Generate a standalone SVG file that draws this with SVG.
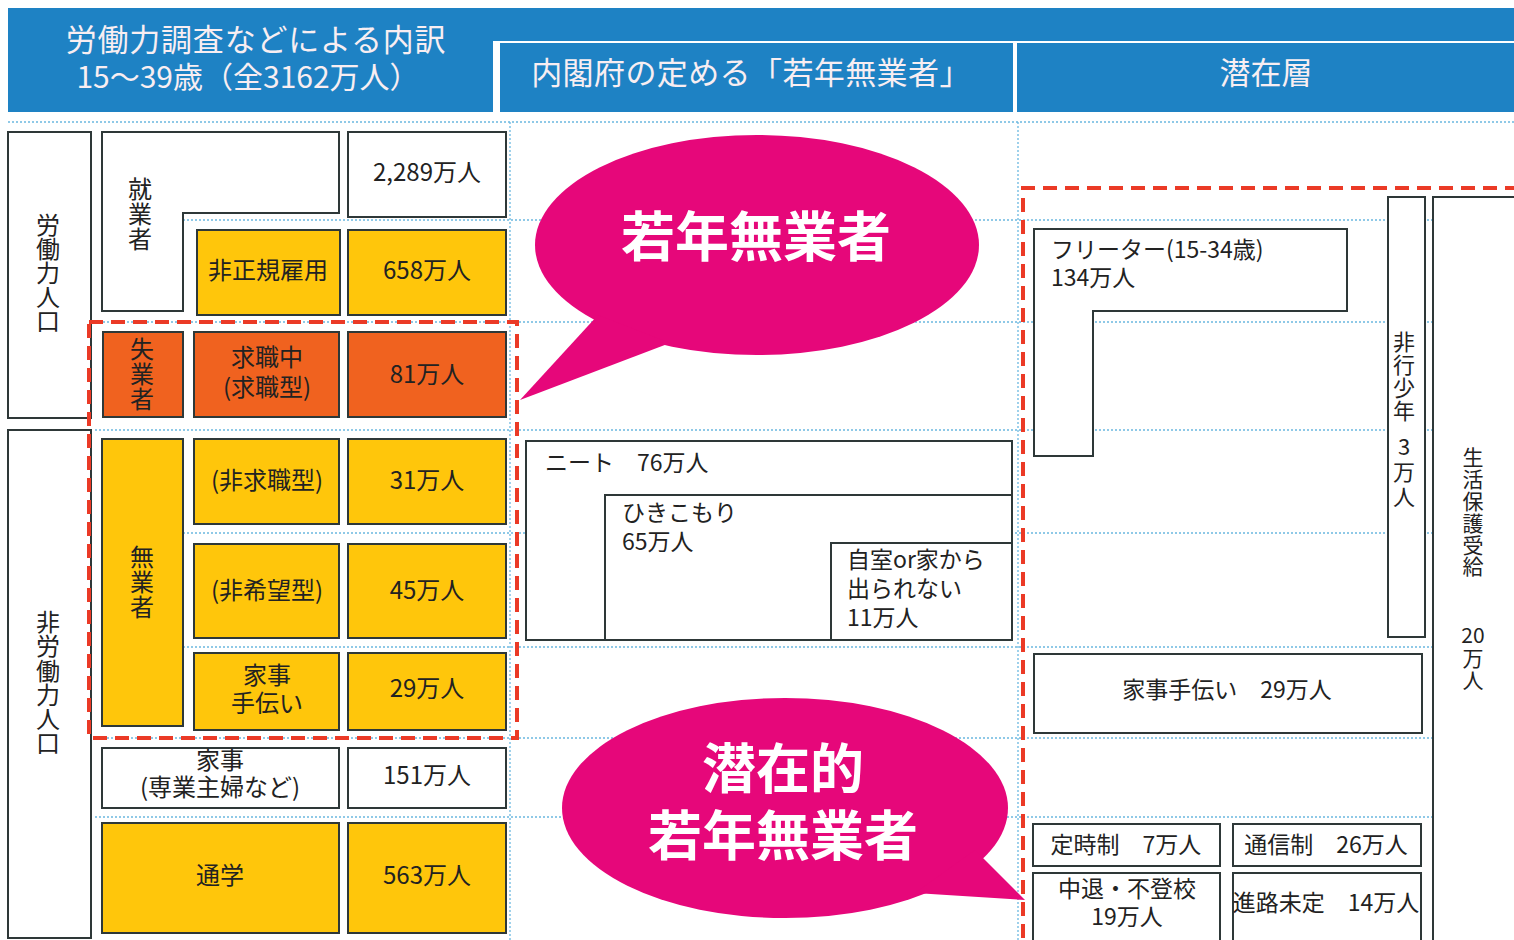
<svg xmlns="http://www.w3.org/2000/svg" width="1514" height="940" viewBox="0 0 1514 940">
<style>
.box{stroke:#2e3838;stroke-width:2}
.w{fill:#fff}.y{fill:#FFC60B}.o{fill:#F0621F}
.t{font-family:"Noto Sans CJK JP","Noto Sans CJK SC",sans-serif;font-size:24px;fill:#222}
.s23{font-size:23px}.s22{font-size:22px}.s21{font-size:21px}
.c{text-anchor:middle}
.v{writing-mode:vertical-rl;text-orientation:upright}
.hd{fill:#F8EEF2;font-size:30px}
.bub{fill:#E6077A}
.bt{fill:#fff;font-size:54px;font-weight:bold}
.dash{fill:none;stroke:#EB3A26;stroke-width:4;stroke-dasharray:14 8}
.dot{stroke:#6BB8E0;stroke-width:1.3;stroke-dasharray:2 2;fill:none}
.hb{fill:#1E82C4}
</style>
<rect width="1514" height="940" fill="#fff"/>
<g id="header">
<rect class="hb" x="8" y="8" width="1506" height="33"/>
<rect class="hb" x="8" y="8" width="485" height="104"/>
<rect class="hb" x="500" y="43" width="513" height="69"/>
<rect class="hb" x="1017" y="43" width="497" height="69"/>
<text class="t hd c"><tspan x="256" y="51" style="font-size:31px;letter-spacing:0.8px">労働力調査などによる内訳</tspan><tspan x="248" y="88">15～39歳（全3162万人）</tspan></text>
<text class="t hd c" x="751" y="84" style="font-size:31px;letter-spacing:0.4px">内閣府の定める「若年無業者」</text>
<text class="t hd c" x="1266" y="84" style="font-size:31px">潜在層</text>
</g>
<g id="guides">
<line class="dot" x1="8" y1="122" x2="1514" y2="122"/>
<line class="dot" x1="183" y1="220" x2="1514" y2="220"/>
<line class="dot" x1="95" y1="322" x2="1514" y2="322"/>
<line class="dot" x1="95" y1="430" x2="1514" y2="430"/>
<line class="dot" x1="183" y1="533" x2="1514" y2="533"/>
<line class="dot" x1="183" y1="647" x2="1514" y2="647"/>
<line class="dot" x1="95" y1="738" x2="1514" y2="738"/>
<line class="dot" x1="95" y1="817" x2="1514" y2="817"/>
<line class="dot" x1="510" y1="122" x2="510" y2="940"/>
<line class="dot" x1="1018" y1="122" x2="1018" y2="940"/>
</g>
<g id="labor-force">
<rect class="box w" x="8" y="132" width="83" height="286"/>
<text class="t v" x="48" y="213">労働力人口</text>
</g>
<g id="non-labor-force">
<rect class="box w" x="8" y="430" width="83" height="508"/>
<text class="t v" x="48" y="610" style="letter-spacing:0.2px">非労働力人口</text>
</g>
<g id="employed">
<path class="box w" d="M102 132H339V213H183V311H102Z"/>
<text class="t v" x="140" y="177" style="letter-spacing:1px">就業者</text>
</g>
<g id="employed-n">
<rect class="box w" x="348" y="132" width="158" height="85"/>
<text class="t c" x="427" y="181">2,289万人</text>
</g>
<g id="irregular">
<rect class="box y" x="197" y="230" width="143" height="85"/>
<text class="t c" x="268" y="279">非正規雇用</text>
</g>
<g id="irregular-n">
<rect class="box y" x="348" y="230" width="158" height="85"/>
<text class="t c" x="427" y="279">658万人</text>
</g>
<g id="unemployed">
<rect class="box o" x="103" y="332" width="80" height="85"/>
<text class="t v" x="142" y="337" style="letter-spacing:1px">失業者</text>
</g>
<g id="seeking">
<rect class="box o" x="194" y="332" width="145" height="85"/>
<text class="t c"><tspan x="267" y="366">求職中</tspan><tspan x="267" y="396">(求職型)</tspan></text>
</g>
<g id="seeking-n">
<rect class="box o" x="348" y="332" width="158" height="85"/>
<text class="t c" x="427" y="383">81万人</text>
</g>
<g id="jobless">
<rect class="box y" x="102" y="439" width="81" height="287"/>
<text class="t v" x="142" y="545" style="letter-spacing:1px">無業者</text>
</g>
<g id="non-seeking">
<rect class="box y" x="194" y="439" width="145" height="85"/>
<text class="t c" x="267" y="489">(非求職型)</text>
</g>
<g id="non-seeking-n">
<rect class="box y" x="348" y="439" width="158" height="85"/>
<text class="t c" x="427" y="489">31万人</text>
</g>
<g id="non-hope">
<rect class="box y" x="194" y="544" width="145" height="94"/>
<text class="t c" x="267" y="599">(非希望型)</text>
</g>
<g id="non-hope-n">
<rect class="box y" x="348" y="544" width="158" height="94"/>
<text class="t c" x="427" y="599">45万人</text>
</g>
<g id="housework-help">
<rect class="box y" x="194" y="653" width="145" height="77"/>
<text class="t c"><tspan x="267" y="684">家事</tspan><tspan x="267" y="712">手伝い</tspan></text>
</g>
<g id="housework-help-n">
<rect class="box y" x="348" y="653" width="158" height="77"/>
<text class="t c" x="427" y="697">29万人</text>
</g>
<g id="housework">
<rect class="box w" x="102" y="748" width="237" height="60"/>
<text class="t c"><tspan x="220" y="769">家事</tspan><tspan x="220" y="796">(専業主婦など)</tspan></text>
</g>
<g id="housework-n">
<rect class="box w" x="348" y="748" width="158" height="60"/>
<text class="t c" x="427" y="784">151万人</text>
</g>
<g id="school">
<rect class="box y" x="102" y="823" width="237" height="110"/>
<text class="t c" x="220" y="884">通学</text>
</g>
<g id="school-n">
<rect class="box y" x="348" y="823" width="158" height="110"/>
<text class="t c" x="427" y="884">563万人</text>
</g>
<g id="neet">
<rect class="box w" x="526" y="441" width="486" height="199"/>
<text class="t s23" x="545" y="471">ニート　76万人</text>
</g>
<g id="hikikomori">
<rect class="box w" x="605" y="495" width="407" height="145"/>
<text class="t s23"><tspan x="622" y="521">ひきこもり</tspan><tspan x="622" y="550">65万人</tspan></text>
</g>
<g id="housebound">
<rect class="box w" x="831" y="543" width="181" height="97"/>
<text class="t s23"><tspan x="847" y="568">自室or家から</tspan><tspan x="847" y="597">出られない</tspan><tspan x="847" y="626">11万人</tspan></text>
</g>
<g id="freeter">
<path class="box w" d="M1034 229H1347V311H1093V456H1034Z"/>
<text class="t s23"><tspan x="1051" y="258">フリーター(15-34歳)</tspan><tspan x="1051" y="286">134万人</tspan></text>
</g>
<g id="delinquent">
<rect class="box w" x="1388" y="197" width="37" height="440"/>
<text class="t s22 v" x="1404" y="331" style="letter-spacing:1px">非行少年</text>
<text class="t s22 v" x="1404" y="436" style="letter-spacing:3px">3万人</text>
</g>
<g id="welfare">
<rect class="box w" x="1433" y="197" width="90" height="760"/>
<text class="t s21 v" x="1473" y="447" style="letter-spacing:0.8px">生活保護受給</text>
<text class="t s21 c" x="1473" y="643">20</text>
<text class="t s21 v" x="1473" y="648" style="letter-spacing:1px">万人</text>
</g>
<g id="housework-help-latent">
<rect class="box w" x="1034" y="654" width="388" height="79"/>
<text class="t s23 c" x="1227" y="698">家事手伝い　29万人</text>
</g>
<g id="part-time-school">
<rect class="box w" x="1033" y="824" width="187" height="42"/>
<text class="t s23 c" x="1126" y="853">定時制　7万人</text>
</g>
<g id="correspondence">
<rect class="box w" x="1233" y="824" width="188" height="42"/>
<text class="t s23 c" x="1326" y="853">通信制　26万人</text>
</g>
<g id="dropout">
<rect class="box w" x="1033" y="873" width="187" height="70"/>
<text class="t s23 c"><tspan x="1127" y="897">中退・不登校</tspan><tspan x="1127" y="925">19万人</tspan></text>
</g>
<g id="undecided">
<rect class="box w" x="1233" y="873" width="188" height="70"/>
<text class="t s23 c" x="1326" y="911">進路未定　14万人</text>
</g>
<g id="groups">
<rect class="dash" x="89" y="322" width="428" height="416"/>
<path class="dash" d="M1023 960V188H1530"/>
</g>
<g id="bubble-neet">
<ellipse class="bub" cx="757" cy="245" rx="222" ry="110"/>
<polygon class="bub" points="598,315 520,400 670,343"/>
<text class="t bt c" x="756" y="257">若年無業者</text>
</g>
<g id="bubble-latent">
<ellipse class="bub" cx="785" cy="808" rx="223" ry="110"/>
<polygon class="bub" points="975,850 1025,900 915,893"/>
<text class="t bt c"><tspan x="783" y="789">潜在的</tspan><tspan x="783" y="856">若年無業者</tspan></text>
</g>
</svg>
